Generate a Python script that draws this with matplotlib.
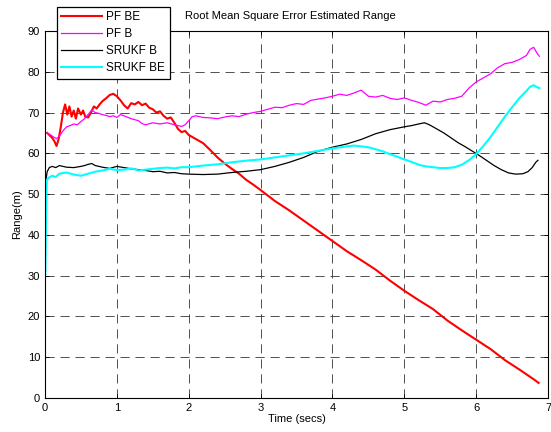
import matplotlib
matplotlib.use("Agg")
import matplotlib.pyplot as plt

plt.rcParams['font.family'] = ['Liberation Sans', 'DejaVu Sans']

# PF BE
t_pf_be = [0.03, 0.06, 0.1, 0.13, 0.16, 0.19, 0.22, 0.25, 0.28, 0.31, 0.34, 0.37, 0.4, 0.43,
           0.46, 0.5, 0.53, 0.56, 0.6, 0.64, 0.68, 0.72, 0.76, 0.8, 0.85, 0.9, 0.95, 1.0,
           1.05, 1.1, 1.15, 1.2, 1.25, 1.3, 1.35, 1.4, 1.45, 1.5, 1.55, 1.6, 1.65, 1.7,
           1.75, 1.8, 1.85, 1.9, 1.95, 2.0, 2.1, 2.2, 2.3, 2.4, 2.5, 2.6, 2.7, 2.8, 2.9,
           3.0, 3.2, 3.4, 3.6, 3.8, 4.0, 4.2, 4.4, 4.6, 4.8, 5.0, 5.2, 5.4, 5.6, 5.8, 6.0,
           6.2, 6.4, 6.6, 6.8, 6.87]
r_pf_be = [65.0, 64.5, 63.8, 63.0, 61.8, 63.5, 66.5, 70.0, 72.0, 69.5, 71.5, 69.0, 70.5, 68.5,
           71.0, 69.5, 70.5, 69.0, 68.8, 70.0, 71.5, 71.0, 72.0, 72.8, 73.5, 74.3, 74.6, 74.0,
           73.0, 71.8, 71.0, 72.3, 72.0, 72.6, 71.8, 72.2, 71.2, 70.8, 70.0, 70.3, 69.2, 68.5,
           68.8, 67.5, 66.0, 65.2, 65.5, 64.5, 63.5, 62.5, 60.8, 59.0, 57.5, 56.2, 55.0, 53.5,
           52.3, 51.0, 48.3, 46.0, 43.5, 41.0, 38.5, 36.0, 33.8, 31.5, 28.8, 26.3, 24.0, 21.8,
           19.0, 16.6, 14.3, 12.0, 9.3, 7.0, 4.6, 3.7]

# PF B
t_pf_b = [0.03, 0.08, 0.12, 0.16, 0.2, 0.25, 0.3, 0.35, 0.4, 0.45, 0.5, 0.55, 0.6, 0.65, 0.7,
          0.75, 0.8, 0.85, 0.9, 0.95, 1.0, 1.05, 1.1, 1.2, 1.3, 1.35, 1.4, 1.5, 1.6, 1.7, 1.8,
          1.9, 1.95, 2.0, 2.05, 2.1, 2.2, 2.3, 2.4, 2.5, 2.6, 2.7, 2.8, 2.9, 3.0, 3.1, 3.2,
          3.3, 3.4, 3.5, 3.6, 3.7, 3.8, 3.9, 4.0, 4.1, 4.2, 4.3, 4.4, 4.5, 4.6, 4.7, 4.8, 4.9,
          5.0, 5.1, 5.2, 5.3, 5.4, 5.5, 5.6, 5.7, 5.8, 5.9, 6.0, 6.1, 6.2, 6.3, 6.4, 6.5, 6.6,
          6.7, 6.75, 6.8, 6.85, 6.88]
r_pf_b = [65.0, 64.5, 64.0, 63.6, 64.2, 65.5, 66.5, 66.8, 67.2, 67.0, 67.8, 68.5, 69.5, 70.6,
          70.0, 69.8, 69.5, 69.3, 69.0, 69.2, 68.8, 69.5, 69.2, 68.5, 68.0, 67.3, 67.0, 67.5,
          67.2, 67.5, 67.0, 66.6, 67.0, 68.0, 69.0, 69.2, 68.8, 68.7, 68.5, 68.9, 69.2, 69.0,
          69.6, 70.0, 70.3, 70.8, 71.3, 71.2, 71.8, 72.2, 72.0, 73.0, 73.3, 73.6, 74.0, 74.5,
          74.2, 74.8, 75.5, 74.0, 73.8, 74.2, 73.5, 73.2, 73.6, 73.0, 72.5, 71.8, 72.8, 72.6,
          73.2, 73.5, 74.0, 76.0, 77.5, 78.5, 79.5, 81.0, 82.0, 82.3, 83.0, 84.0, 85.5, 86.0,
          84.5, 83.8]

# SRUKF B
t_srukf_b = [0.01, 0.03, 0.06, 0.1, 0.15, 0.2, 0.3, 0.4, 0.5, 0.55, 0.6, 0.65, 0.7, 0.8, 0.9,
             1.0, 1.1, 1.2, 1.3, 1.4, 1.5, 1.6, 1.7, 1.8, 1.9, 2.0, 2.2, 2.4, 2.6, 2.8, 3.0,
             3.2, 3.4, 3.6, 3.8, 4.0, 4.2, 4.4, 4.6, 4.8, 5.0, 5.1, 5.2, 5.28, 5.35, 5.45, 5.55,
             5.65, 5.75, 5.85, 5.95, 6.05, 6.15, 6.25, 6.35, 6.45, 6.55, 6.65, 6.72, 6.78, 6.83,
             6.86]
r_srukf_b = [53.0, 55.5, 56.5, 56.8, 56.5, 57.0, 56.6, 56.5, 56.8, 57.0, 57.3, 57.5, 57.0, 56.6,
             56.3, 56.8, 56.5, 56.2, 56.0, 55.8, 55.5, 55.6, 55.2, 55.3, 55.0, 54.9, 54.8, 54.9,
             55.3, 55.6, 56.0, 56.8, 57.8, 59.0, 60.5, 61.5, 62.3, 63.4, 64.8, 65.8, 66.5, 66.8,
             67.2, 67.5, 67.0, 66.0, 65.0, 63.8, 62.6, 61.6, 60.5, 59.4, 58.2, 57.0, 56.0, 55.2,
             54.9, 55.0, 55.5, 56.5, 57.8, 58.3]

# SRUKF BE
t_srukf_be = [0.005, 0.015, 0.025, 0.05, 0.1, 0.15, 0.2, 0.3, 0.4, 0.5, 0.6, 0.7, 0.8, 0.9, 1.0,
              1.1, 1.2, 1.3, 1.4, 1.5, 1.6, 1.7, 1.8, 1.9, 2.0, 2.2, 2.4, 2.6, 2.8, 3.0, 3.2,
              3.4, 3.6, 3.8, 4.0, 4.2, 4.3, 4.4, 4.5, 4.6, 4.7, 4.8, 4.9, 5.0, 5.1, 5.2, 5.3,
              5.4, 5.5, 5.6, 5.7, 5.8, 5.9, 6.0, 6.1, 6.2, 6.3, 6.4, 6.5, 6.6, 6.7, 6.75, 6.8,
              6.85, 6.88]
r_srukf_be = [30.5, 45.0, 53.5, 54.0, 54.5, 54.2, 55.0, 55.3, 54.8, 54.5, 55.0, 55.5, 55.8, 56.2,
              55.9, 56.0, 56.3, 55.8, 56.0, 56.2, 56.4, 56.5, 56.3, 56.6, 56.6, 57.0, 57.3, 57.8,
              58.2, 58.5, 59.0, 59.5, 60.0, 60.6, 61.2, 61.7, 61.9, 61.7, 61.5, 61.0, 60.5, 59.8,
              59.2, 58.5, 57.9, 57.2, 56.8, 56.6, 56.4, 56.4, 56.6, 57.2, 58.3, 59.8, 61.8, 64.0,
              66.5, 69.0, 71.3, 73.5, 75.3, 76.3, 76.7, 76.2, 76.0]

x_ticks = [0, 1, 2, 3, 4, 5, 6, 7]
y_ticks = [0, 10, 20, 30, 40, 50, 60, 70, 80, 90]

fig = plt.figure(figsize=(5.51, 4.32), dpi=100)
ax = fig.add_axes([45 / 551, 1 - 398 / 432, 503 / 551, 367 / 432])

ax.plot(t_pf_be, r_pf_be, color='red', lw=1.5, label='PF BE')
ax.plot(t_pf_b, r_pf_b, color='magenta', lw=0.9, label='PF B')
ax.plot(t_srukf_b, r_srukf_b, color='black', lw=0.9, label='SRUKF B')
ax.plot(t_srukf_be, r_srukf_be, color='cyan', lw=1.5, label='SRUKF BE')

ax.set_xlim(0, 7)
ax.set_ylim(0, 90)
ax.set_xticks(x_ticks)
ax.set_yticks(y_ticks)
ax.tick_params(direction='in', top=True, right=True, labelsize=8, length=3, width=0.6)
ax.grid(True, color='0.2', linestyle=(0, (11, 7)), linewidth=0.6)
for s in ax.spines.values():
    s.set_linewidth(0.8)

ax.set_xlabel('Time (secs)', fontsize=8, labelpad=1)
ax.set_ylabel('Range(m)', fontsize=8, labelpad=4)

fig.text(185 / 551, 1 - 16 / 432, 'Root Mean Square Error Estimated Range',
         fontsize=8, ha='left', va='center')

leg = ax.legend(loc='upper left', bbox_to_anchor=(57 / 551, 1 - 7 / 432),
                bbox_transform=fig.transFigure, fontsize=8.5, fancybox=False,
                framealpha=1, edgecolor='black', handlelength=3.4,
                labelspacing=0.42, borderpad=0.38, handletextpad=0.4, borderaxespad=0)
leg.get_frame().set_linewidth(0.9)

fig.savefig('out.png', dpi=100)
